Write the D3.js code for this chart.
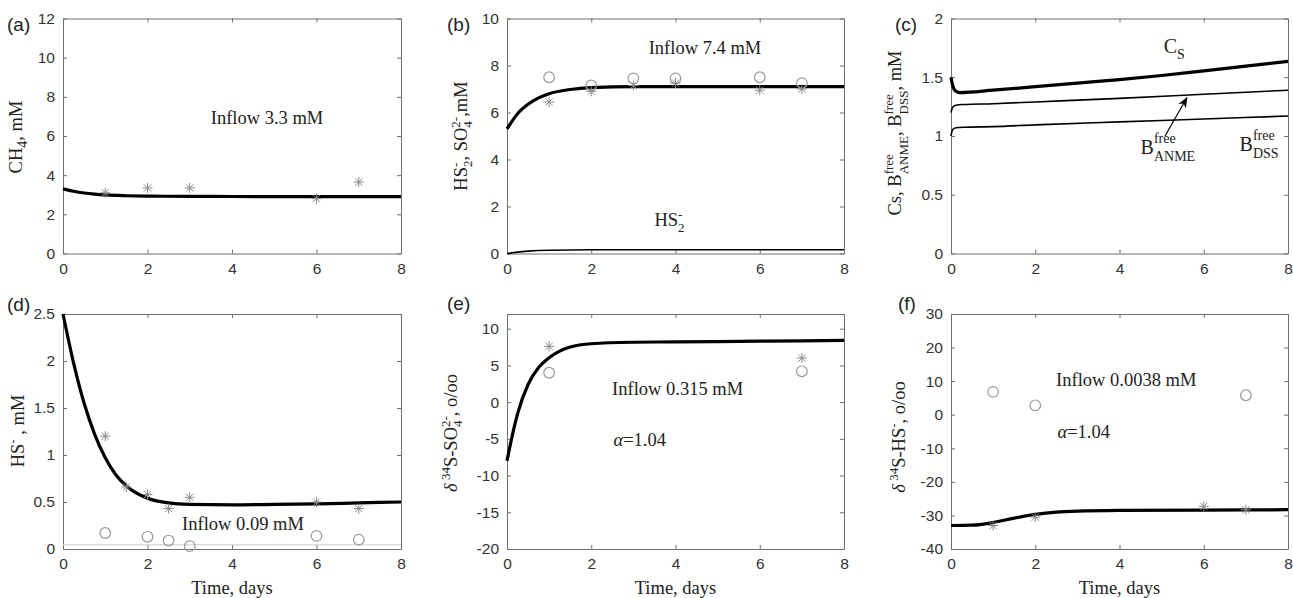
<!DOCTYPE html>
<html>
<head>
<meta charset="utf-8">
<script src="https://cdn.jsdelivr.net/npm/d3@7"></script>
<style>
body { margin: 0; background: #fff; }
.tick text { font-family: "Liberation Sans", Arial, sans-serif; font-size: 15.5px; fill: #333; }
.domain, .tick line { stroke: #6f6f6f; stroke-width: 1; }
.lab { font-family: "Liberation Serif", "Times New Roman", serif; font-size: 18.5px; fill: #222; font-weight: normal; }
.plab { font-family: "Liberation Sans", Arial, sans-serif; font-size: 19px; fill: #222; }
</style>
</head>
<body>
<svg id="fig" width="1293" height="598"></svg>
<script>
// ---- data ----
const timeTicks = [0, 2, 4, 6, 8];

// (a) CH4
const ch4Ticks = [0, 2, 4, 6, 8, 10, 12];
const ch4Model = [[0,3.3],[0.25,3.18],[0.5,3.09],[0.75,3.03],[1,2.99],[1.5,2.95],[2,2.93],[3,2.92],[4,2.91],[6,2.9],[8,2.9]];
const ch4Stars = [[1,3.1],[2,3.35],[3,3.35],[6,2.8],[7,3.65]];

// (b) HS2-, SO4 2-
const so4Ticks = [0, 2, 4, 6, 8, 10];
const so4Model = [[0,5.3],[0.25,5.95],[0.5,6.35],[0.75,6.62],[1,6.8],[1.5,6.98],[2,7.06],[3,7.1],[4,7.1],[6,7.1],[8,7.1]];
const hs2Model = [[0,0],[0.25,0.06],[0.5,0.1],[1,0.14],[2,0.16],[4,0.16],[8,0.16]];
const so4Circles = [[1,7.5],[2,7.15],[3,7.45],[4,7.45],[6,7.5],[7,7.25]];
const so4Stars = [[1,6.45],[2,6.9],[3,7.15],[4,7.25],[6,6.95],[7,7.0]];

// (c) Cs, B free
const biomassTicks = [0, 0.5, 1, 1.5, 2];
const csModel = [[0,1.5],[0.04,1.43],[0.1,1.385],[0.2,1.37],[1,1.39],[2,1.42],[3,1.45],[4,1.48],[5,1.515],[6,1.555],[7,1.595],[8,1.635]];
const anmeModel = [[0,1.2],[0.04,1.245],[0.12,1.262],[0.3,1.268],[1,1.275],[2,1.29],[4,1.32],[6,1.355],[8,1.39]];
const dssModel = [[0,1.0],[0.04,1.055],[0.12,1.07],[0.3,1.075],[1,1.08],[2,1.095],[4,1.12],[6,1.145],[8,1.17]];

// (d) HS-
const hsTicks = [0, 0.5, 1, 1.5, 2, 2.5];
const hsModel = [[0,2.5],[0.25,1.98],[0.5,1.55],[0.75,1.22],[1,0.97],[1.25,0.79],[1.5,0.67],[2,0.54],[2.5,0.49],[3,0.475],[4,0.47],[5,0.475],[6,0.48],[7,0.49],[8,0.5]];
const hsBase = [[0,0.045],[8,0.045]];
const hsStars = [[1,1.2],[1.5,0.66],[2,0.58],[2.5,0.43],[3,0.55],[6,0.5],[7,0.43]];
const hsCircles = [[1,0.17],[2,0.13],[2.5,0.09],[3,0.03],[6,0.14],[7,0.1]];

// (e) d34S-SO4
const dSo4Ticks = [-20, -15, -10, -5, 0, 5, 10];
const dSo4Model = [[0,-8],[0.1,-5.2],[0.25,-1.6],[0.5,2.4],[0.75,4.7],[1,6.05],[1.25,6.95],[1.5,7.5],[2,7.95],[3,8.15],[4,8.2],[6,8.3],[8,8.4]];
const dSo4Stars = [[1,7.6],[7,6.0]];
const dSo4Circles = [[1,4.0],[7,4.2]];

// (f) d34S-HS
const dHsTicks = [-40, -30, -20, -10, 0, 10, 20, 30];
const dHsModel = [[0,-33],[0.5,-32.9],[1,-32.1],[1.5,-30.8],[2,-29.7],[2.5,-29],[3,-28.7],[4,-28.5],[6,-28.4],[8,-28.3]];
const dHsStars = [[1,-33],[2,-30.5],[6,-27.3],[7,-28.3]];
const dHsCircles = [[1,6.8],[2,2.8],[7,5.8]];

// ---- layout ----
const cols = [[63, 401], [507, 844], [951, 1288]];
const rows = [[18.5, 253.5], [314, 549]];
const svg = d3.select("#fig");

function starPath(s) {
  const k = s * 0.72;
  return `M${-s},0L${s},0M0,${-s}L0,${s}M${-k},${-k}L${k},${k}M${-k},${k}L${k},${-k}`;
}

function panel(o) {
  const [x0, x1] = cols[o.col], [y0, y1] = rows[o.row];
  const x = d3.scaleLinear().domain([0, 8]).range([x0, x1]);
  const y = d3.scaleLinear().domain(o.ydom).range([y1, y0]);
  const g = svg.append("g");

  g.append("g").attr("transform", `translate(0,${y1})`)
    .call(d3.axisBottom(x).tickValues(timeTicks).tickSizeInner(-4).tickSizeOuter(0).tickPadding(9));
  g.append("g").attr("transform", `translate(0,${y0})`)
    .call(d3.axisTop(x).tickValues(timeTicks).tickSizeInner(-4).tickSizeOuter(0).tickFormat(""));
  g.append("g").attr("transform", `translate(${x0},0)`)
    .call(d3.axisLeft(y).tickValues(o.yticks).tickSizeInner(-4).tickSizeOuter(0).tickPadding(8).tickFormat(d => String(d)));
  g.append("g").attr("transform", `translate(${x1},0)`)
    .call(d3.axisRight(y).tickValues(o.yticks).tickSizeInner(-4).tickSizeOuter(0).tickFormat(""));
  g.selectAll(".domain").attr("stroke", "#6f6f6f");
  g.selectAll(".tick text").filter(function () { return this.textContent === ""; }).remove();

  const line = d3.line().x(d => x(d[0])).y(d => y(d[1])).curve(d3.curveMonotoneX);
  (o.lines || []).forEach(l => {
    g.append("path").datum(l.data).attr("d", line)
      .attr("fill", "none").attr("stroke", l.color || "#000").attr("stroke-width", l.w);
  });
  (o.circles || []).forEach(c => {
    g.append("g").selectAll("circle").data(c).join("circle")
      .attr("cx", d => x(d[0])).attr("cy", d => y(d[1])).attr("r", 5.3)
      .attr("fill", "none").attr("stroke", "#9a9a9a").attr("stroke-width", 1.2);
  });
  (o.stars || []).forEach(s => {
    g.append("g").selectAll("path").data(s).join("path")
      .attr("transform", d => `translate(${x(d[0])},${y(d[1])})`)
      .attr("d", starPath(5)).attr("stroke", "#8a8a8a").attr("stroke-width", 1).attr("fill", "none");
  });
  (o.texts || []).forEach(t => {
    const el = g.append("text").attr("class", "lab").attr("x", x(t.x)).attr("y", y(t.y))
      .attr("text-anchor", t.anchor || "start");
    t.parts(el);
  });

  g.append("text").attr("class", "plab").attr("x", o.pl[0]).attr("y", o.pl[1]).text(o.name);

  const yl = g.append("text").attr("class", "lab")
    .attr("transform", `translate(${o.yl[0]},${o.yl[1]}) rotate(-90)`)
    .attr("text-anchor", "middle");
  o.ylab(yl);

  if (o.row === 1) {
    g.append("text").attr("class", "lab").attr("x", (x0 + x1) / 2).attr("y", 594)
      .attr("text-anchor", "middle").text("Time, days");
  }
  return { g, x, y };
}

function sp(el, txt, opt) {
  const t = el.append("tspan").text(txt);
  if (opt) Object.entries(opt).forEach(([k, v]) => {
    if (k === "fs") t.style("font-size", v + "px");
    else if (k === "it") t.style("font-style", "italic");
    else t.attr(k, v);
  });
  return t;
}
// superscript stacked over subscript; returns the offset {dx, dy} for the next piece
function stack(el, sup, sub, fs, up, down) {
  const a = sp(el, sup, { dy: -up, fs: fs });
  const b = sp(el, sub, { dy: up + down, fs: fs });
  const la = a.node().getComputedTextLength(), lb = b.node().getComputedTextLength();
  b.attr("dx", -la);
  return { dx: Math.max(0, la - lb), dy: -down };
}
const plain = s => el => sp(el, s);

// (a)
panel({
  col: 0, row: 0, name: "(a)", pl: [7, 31], ydom: [0, 12], yticks: ch4Ticks,
  lines: [{ data: ch4Model, w: 3.2 }], stars: [ch4Stars],
  texts: [{ x: 4.83, y: 6.6, anchor: "middle", parts: plain("Inflow 3.3 mM") }],
  yl: [22, 137],
  ylab: el => { sp(el, "CH"); sp(el, "4", { dy: 5, fs: 14 }); sp(el, ", mM", { dy: -5 }); }
});

// (b)
panel({
  col: 1, row: 0, name: "(b)", pl: [447, 31], ydom: [0, 10], yticks: so4Ticks,
  lines: [{ data: so4Model, w: 3.2 }, { data: hs2Model, w: 1.6 }],
  circles: [so4Circles], stars: [so4Stars],
  texts: [
    { x: 4.7, y: 8.5, anchor: "middle", parts: plain("Inflow 7.4 mM") },
    { x: 3.5, y: 1.15, parts: el => { sp(el, "HS"); stack(el, "-", "2", 13, 7, 6); } }
  ],
  yl: [467, 136],
  ylab: el => {
    sp(el, "HS"); const d1 = stack(el, "-", "2", 13, 7, 5);
    sp(el, ", SO", d1); const d2 = stack(el, "2-", "4", 13, 7, 5);
    sp(el, ",mM", d2);
  }
});

// (c)
const pc = panel({
  col: 2, row: 0, name: "(c)", pl: [895, 31], ydom: [0, 2], yticks: biomassTicks,
  lines: [{ data: csModel, w: 3.2 }, { data: anmeModel, w: 1.6 }, { data: dssModel, w: 1.6 }],
  texts: [
    { x: 5.05, y: 1.71, parts: el => { sp(el, "C", { fs: 20 }); sp(el, "S", { dy: 6, fs: 14 }); } },
    { x: 4.5, y: 0.85, parts: el => { sp(el, "B", { fs: 20 }); stack(el, "free", "ANME", 14, 11, 7); } },
    { x: 6.85, y: 0.87, parts: el => { sp(el, "B", { fs: 20 }); stack(el, "free", "DSS", 14, 11, 7); } }
  ],
  yl: [901, 133],
  ylab: el => {
    sp(el, "Cs, B"); const d1 = stack(el, "free", "ANME", 13, 8, 7);
    sp(el, ", B", d1); const d2 = stack(el, "free", "DSS", 13, 8, 7);
    sp(el, ", mM", d2);
  }
});
svg.append("defs").append("marker").attr("id", "ah").attr("viewBox", "0 0 10 10")
  .attr("refX", 9).attr("refY", 5).attr("markerWidth", 9).attr("markerHeight", 9).attr("orient", "auto")
  .append("path").attr("d", "M0,1L10,5L0,9L3,5Z").attr("fill", "#000");
pc.g.append("line")
  .attr("x1", pc.x(5.08)).attr("y1", pc.y(1.0))
  .attr("x2", pc.x(5.6)).attr("y2", pc.y(1.325))
  .attr("stroke", "#000").attr("stroke-width", 1.2).attr("marker-end", "url(#ah)");

// (d)
panel({
  col: 0, row: 1, name: "(d)", pl: [7, 311], ydom: [0, 2.5], yticks: hsTicks,
  lines: [{ data: hsBase, w: 1, color: "#cfcfcf" }, { data: hsModel, w: 3.2 }],
  circles: [hsCircles], stars: [hsStars],
  texts: [{ x: 4.26, y: 0.2, anchor: "middle", parts: plain("Inflow 0.09 mM") }],
  yl: [24, 431],
  ylab: el => { sp(el, "HS"); sp(el, "-", { dy: -7, fs: 13 }); sp(el, " , mM", { dy: 7 }); }
});

// (e)
panel({
  col: 1, row: 1, name: "(e)", pl: [447, 310], ydom: [-20, 12], yticks: dSo4Ticks,
  lines: [{ data: dSo4Model, w: 3.2 }],
  circles: [dSo4Circles], stars: [dSo4Stars],
  texts: [
    { x: 4.05, y: 1.0, anchor: "middle", parts: plain("Inflow 0.315 mM") },
    { x: 3.15, y: -6.0, anchor: "middle", parts: el => { sp(el, "α", { it: 1 }); sp(el, "=1.04"); } }
  ],
  yl: [457, 433],
  ylab: el => {
    sp(el, "δ", { it: 1 }); sp(el, " 34", { dy: -7, fs: 13 }); sp(el, "S-SO", { dy: 7 });
    const d = stack(el, "2-", "4", 13, 7, 5); sp(el, ", o/oo", d);
  }
});

// (f)
panel({
  col: 2, row: 1, name: "(f)", pl: [898, 310], ydom: [-40, 30], yticks: dHsTicks,
  lines: [{ data: dHsModel, w: 3.2 }],
  circles: [dHsCircles], stars: [dHsStars],
  texts: [
    { x: 4.16, y: 8.7, anchor: "middle", parts: plain("Inflow 0.0038 mM") },
    { x: 3.15, y: -7.0, anchor: "middle", parts: el => { sp(el, "α", { it: 1 }); sp(el, "=1.04"); } }
  ],
  yl: [905, 437],
  ylab: el => {
    sp(el, "δ", { it: 1 }); sp(el, " 34", { dy: -7, fs: 13 }); sp(el, "S-HS", { dy: 7 });
    sp(el, "-", { dy: -7, fs: 13 }); sp(el, ", o/oo", { dy: 7 });
  }
});
</script>
</body>
</html>
